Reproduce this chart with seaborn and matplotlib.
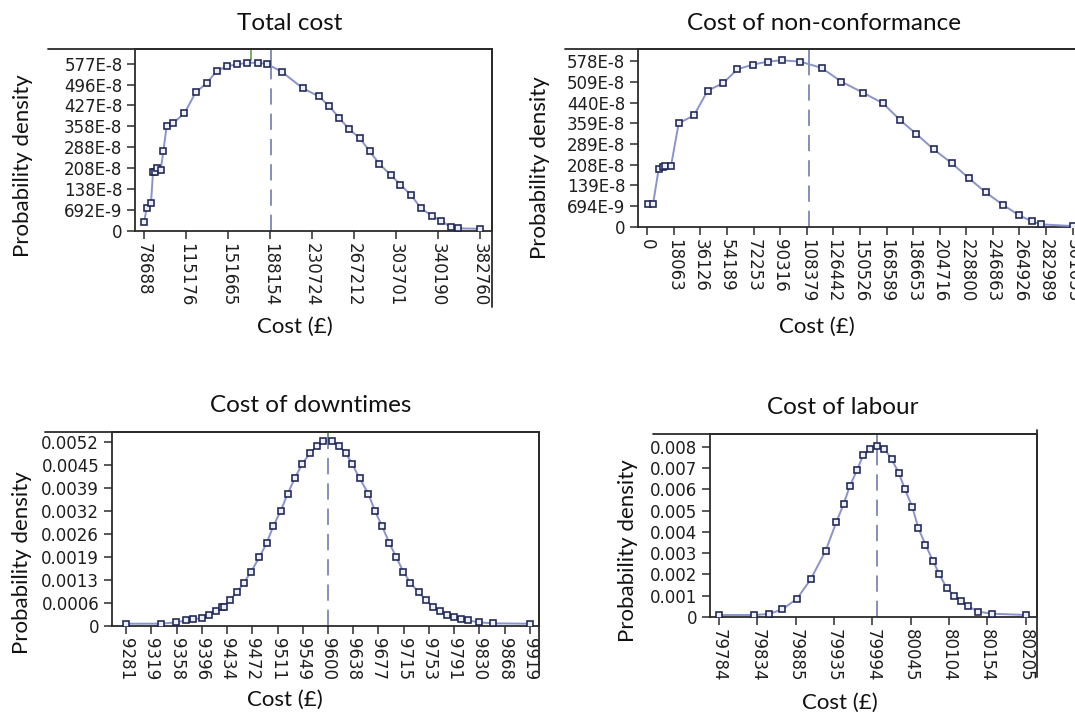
import numpy as np
import pandas as pd
import matplotlib
matplotlib.use("Agg")
import matplotlib.pyplot as plt
import seaborn as sns

# ---------------- data ----------------
# Total cost
total_x = [78688, 81101, 85023, 86833, 88944, 90754, 93771, 96184, 99201, 104932,
           115189, 125445, 135400, 144450, 154103, 162851, 171901, 181856, 190302,
           203575, 222278, 236758, 245808, 255461, 264209, 274164, 282912, 291660,
           301916, 310665, 320619, 329367, 339322, 347768, 356517, 362852, 382760]
total_y = [29.6e-8, 77.4e-8, 95.6e-8, 202.6e-8, 202.6e-8, 215.1e-8, 209.4e-8, 274.3e-8,
           361.9e-8, 372.2e-8, 405.2e-8, 478.0e-8, 509.9e-8, 552.0e-8, 569.1e-8,
           574.7e-8, 580.4e-8, 580.4e-8, 575.9e-8, 548.6e-8, 492.8e-8, 464.4e-8,
           432.5e-8, 389.2e-8, 351.7e-8, 318.7e-8, 274.3e-8, 231.0e-8, 192.3e-8,
           159.3e-8, 121.8e-8, 77.4e-8, 51.2e-8, 34.1e-8, 11.4e-8, 8.0e-8, 6.8e-8]
total_xticks = ["78688", "115176", "151665", "188154", "230724", "267212", "303701",
                "340190", "382760"]
total_yticks = ["0", "692E-9", "138E-8", "208E-8", "288E-8", "358E-8", "427E-8",
                "496E-8", "577E-8"]

# Cost of non-conformance
ncf_x = [236, 4011, 8022, 10853, 12505, 16752, 22178, 33032, 42705, 53794, 63704,
         74557, 85174, 95084, 108296, 123397, 137317, 152653, 166810, 178843, 190404,
         202672, 215650, 227683, 239480, 251513, 263310, 272276, 278646, 301053]
ncf_y = [78.1e-8, 78.1e-8, 201.6e-8, 207.4e-8, 210.9e-8, 212.1e-8, 361.2e-8, 389.2e-8,
         475.4e-8, 502.2e-8, 550.0e-8, 566.3e-8, 576.8e-8, 581.5e-8, 576.8e-8,
         554.7e-8, 506.9e-8, 468.4e-8, 431.2e-8, 372.9e-8, 324.0e-8, 270.3e-8,
         221.4e-8, 169.0e-8, 120.0e-8, 76.9e-8, 39.6e-8, 18.6e-8, 8.2e-8, 2.3e-8]
ncf_xticks = ["0", "18063", "36126", "54189", "72253", "90316", "108379", "126442",
              "150526", "168589", "186653", "204716", "228800", "246863", "264926",
              "282989", "301053"]
ncf_yticks = ["0", "694E-9", "139E-8", "208E-8", "289E-8", "359E-8", "440E-8",
              "509E-8", "578E-8"]

# Cost of downtimes
down_x = [9281.0, 9336.3, 9360.0, 9375.8, 9387.3, 9400.5, 9411.5, 9423.1, 9432.1,
          9436.3, 9445.2, 9456.3, 9467.3, 9478.4, 9491.6, 9503.1, 9513.7, 9525.2,
          9536.3, 9547.4, 9558.9, 9571.6, 9582.6, 9592.6, 9605.8, 9616.8, 9627.9,
          9638.4, 9650.0, 9663.7, 9674.2, 9685.3, 9696.9, 9707.9, 9719.0, 9730.0,
          9743.2, 9754.2, 9765.3, 9776.9, 9787.4, 9799.0, 9810.0, 9821.1, 9839.0,
          9861.1, 9919.0]
down_y = [0.0000567, 0.0000567, 0.0000945, 0.000151, 0.000180, 0.000217, 0.000303,
          0.000425, 0.000539, 0.000539, 0.000737, 0.000945, 0.001220, 0.001532,
          0.001938, 0.002345, 0.002827, 0.003252, 0.003744, 0.004179, 0.004576,
          0.004897, 0.005096, 0.005228, 0.005228, 0.005105, 0.004907, 0.004576,
          0.004179, 0.003744, 0.003252, 0.002827, 0.002345, 0.001938, 0.001532,
          0.001220, 0.000945, 0.000737, 0.000539, 0.000425, 0.000303, 0.000236,
          0.000199, 0.000151, 0.0000945, 0.0000662, 0.0000567]
down_xticks = ["9281", "9319", "9358", "9396", "9434", "9472", "9511", "9549", "9600",
               "9638", "9677", "9715", "9753", "9791", "9830", "9868", "9919"]
down_yticks = ["0", "0.0006", "0.0013", "0.0019", "0.0026", "0.0032", "0.0039",
               "0.0045", "0.0052"]

# Cost of labour
lab_x = [79784.0, 79832.0, 79852.6, 79870.9, 79891.1, 79909.8, 79930.4, 79945.1,
         79955.1, 79963.4, 79973.5, 79981.7, 79991.8, 80001.4, 80011.0, 80021.0,
         80030.7, 80039.3, 80049.4, 80057.6, 80067.3, 80077.8, 80086.5, 80096.5,
         80106.6, 80115.8, 80125.4, 80139.6, 80158.3, 80205.0]
lab_y = [0.0000939, 0.0000939, 0.000141, 0.000360, 0.000861, 0.001769, 0.003116,
         0.004462, 0.005307, 0.006137, 0.006904, 0.007593, 0.007891, 0.008047,
         0.007906, 0.007405, 0.006763, 0.005996, 0.005151, 0.004180, 0.003397,
         0.002630, 0.002004, 0.001362, 0.001002, 0.000736, 0.000517, 0.000250,
         0.000157, 0.0000939]
lab_xticks = ["79784", "79834", "79885", "79935", "79994", "80045", "80104", "80154",
              "80205"]
lab_yticks = ["0", "0.001", "0.002", "0.003", "0.004", "0.005", "0.006", "0.007",
              "0.008"]

titles = ["Total cost", "Cost of non-conformance", "Cost of downtimes", "Cost of labour"]
xlabel = "Cost (£)"
ylabel = "Probability density"

# reference lines (mean / mode) per panel
mean_x = [193500, 114667, 9600, 80000.4]
mode_x = [175521, None, 9600, None]

# ---------------- style ----------------
sns.set_style("white")
plt.rcParams["font.family"] = ["DejaVu Sans"]

W, H = 1075, 716
fig = plt.figure(figsize=(W / 100, H / 100), dpi=100)
fig.patch.set_facecolor("white")

LINE_C = "#8a93cc"
MARK_EDGE = "#1d2452"
FRAME_C = "#2b2b2b"
DASH_C = "#7b86b4"
GREEN_C = "#6aa856"
TICK_C = "#1e1e1e"
TITLE_FONT = ["Lato", "DejaVu Sans"]


def px_axes(left, right, top, bottom):
    return fig.add_axes([left / W, 1 - bottom / H, (right - left) / W, (bottom - top) / H])


panels = [
    dict(x=total_x, y=total_y, xt=total_xticks, yt=total_yticks,
         xtv=(78688, 382760), ytv=5.77e-6,
         box=(135, 491.7, 49.3, 230.7), xlim=(70543, 393320), ylim=(0, 6.27e-6),
         top_ext=-0.244, right_ext=-0.418, right_top=1.0, show_right=True,
         solid_bottom=5.40e-6, green_bottom=5.89e-6),
    dict(x=ncf_x, y=ncf_y, xt=ncf_xticks, yt=ncf_yticks,
         xtv=(0, 301053), ytv=5.78e-6,
         box=(638, 1080, 49.3, 226.7), xlim=(-6606, 306250), ylim=(0, 6.199e-6),
         top_ext=-0.166, right_ext=None, right_top=1.0, show_right=False,
         solid_bottom=5.65e-6, green_bottom=None),
    dict(x=down_x, y=down_y, xt=down_xticks, yt=down_yticks,
         xtv=(9281, 9919), ytv=0.0052,
         box=(111.7, 539.3, 431.7, 625.7), xlim=(9258.4, 9933.7), ylim=(0, 0.005503),
         top_ext=-0.155, right_ext=-0.242, right_top=1.0, show_right=True,
         solid_bottom=None, green_bottom=0.005266),
    dict(x=lab_x, y=lab_y, xt=lab_xticks, yt=lab_yticks,
         xtv=(79784, 80205), ytv=0.008,
         box=(710, 1036.7, 434.3, 617), xlim=(79771.6, 80220.1), ylim=(0, 0.008579),
         top_ext=-0.174, right_ext=-0.328, right_top=1.022, show_right=True,
         solid_bottom=0.0080, green_bottom=None),
]

for i, p in enumerate(panels):
    ax = px_axes(*p["box"])
    df = pd.DataFrame({"cost": p["x"], "density": p["y"]})
    sns.lineplot(data=df, x="cost", y="density", ax=ax, color=LINE_C, linewidth=1.4,
                 marker="s", markersize=4.0, markerfacecolor="#eef0f8",
                 markeredgecolor=MARK_EDGE, markeredgewidth=1.15, sort=False, zorder=3)
    ax.set_xlim(*p["xlim"])
    ax.set_ylim(*p["ylim"])

    # reference lines
    mx = mean_x[i]
    ymax = p["ylim"][1]
    if p["solid_bottom"] is not None:
        ax.plot([mx, mx], [p["solid_bottom"], ymax], color=DASH_C, lw=1.3, zorder=2)
        ax.plot([mx, mx], [0, p["solid_bottom"]], color=DASH_C, lw=1.3,
                dashes=(9, 5), zorder=2)
    else:
        ax.plot([mx, mx], [0, ymax], color=DASH_C, lw=1.3, dashes=(9, 5), zorder=2)
    if p["green_bottom"] is not None:
        gx = mode_x[i] if mode_x[i] is not None else mx
        ax.plot([gx, gx], [p["green_bottom"], ymax], color=GREEN_C, lw=1.3, zorder=2)

    # ticks
    ax.set_xticks(np.linspace(p["xtv"][0], p["xtv"][1], len(p["xt"])))
    ax.set_xticklabels(p["xt"], rotation=270, fontsize=12, color=TICK_C)
    ax.set_yticks(np.linspace(0, p["ytv"], len(p["yt"])))
    ax.set_yticklabels(p["yt"], fontsize=12, color=TICK_C)
    ax.tick_params(axis="x", direction="out", length=5.5, width=1.1, pad=3,
                   color=FRAME_C, bottom=True)
    ax.tick_params(axis="y", direction="out", length=6, width=1.1, pad=3,
                   color=FRAME_C, left=True)
    ax.set_xlabel("")
    ax.set_ylabel("")

    for side, sp in ax.spines.items():
        sp.set_color(FRAME_C)
        sp.set_linewidth(1.3)
    ax.spines["right"].set_visible(p["show_right"])

    # outer frame extensions
    ax.plot([p["top_ext"], 1.02 if not p["show_right"] else 1.0], [1, 1],
            transform=ax.transAxes, color=FRAME_C, lw=1.3, clip_on=False)
    if p["right_ext"] is not None:
        ax.plot([1, 1], [p["right_ext"], p["right_top"]], transform=ax.transAxes,
                color=FRAME_C, lw=1.3, clip_on=False)

# titles and axis labels (Calibri-like sans)
title_pos = [(290, 24), (824, 24), (311, 405), (843, 407)]
ylabel_pos = [(23, 166), (540, 168), (22, 563), (628, 551)]
xlabel_pos = [(295, 327), (817, 327), (285, 700), (840, 703)]
for i in range(4):
    tx, ty = title_pos[i]
    fig.text(tx / W, 1 - ty / H, titles[i], ha="center", va="center", fontsize=17.5,
             family=TITLE_FONT, color="#111111")
    lx, ly = ylabel_pos[i]
    fig.text(lx / W, 1 - ly / H, ylabel, ha="center", va="center", rotation=90,
             fontsize=16, family=TITLE_FONT, color="#111111")
    cx, cy = xlabel_pos[i]
    fig.text(cx / W, 1 - cy / H, xlabel, ha="center", va="center", fontsize=16,
             family=TITLE_FONT, color="#111111")

fig.savefig("out.png", dpi=100, facecolor="white")
